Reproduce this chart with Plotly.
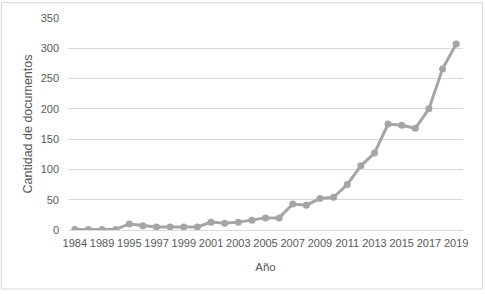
import plotly.graph_objects as go

years = ["1984", "1988", "1989", "1993", "1995", "1996", "1997", "1998", "1999", "2000",
         "2001", "2002", "2003", "2004", "2005", "2006", "2007", "2008", "2009", "2010",
         "2011", "2012", "2013", "2014", "2015", "2016", "2017", "2018", "2019"]
docs = [1, 1, 1, 1, 10, 7, 5, 5, 5, 5,
        13, 11, 13, 16, 20, 20, 43, 41, 52, 54,
        75, 106, 127, 175, 173, 168, 200, 266, 307]
tick_labels = years[::2]

W, H = 485, 294
L, R, T, B = 68, 22, 16, 64
pw, ph = W - L - R, H - T - B

fig = go.Figure()
fig.add_trace(go.Scatter(
    x=years, y=docs, mode="lines+markers",
    line=dict(color="#a5a5a5", width=3),
    marker=dict(color="#a5a5a5", size=7),
    hoverinfo="x+y",
))

font_col = "#595959"
fig.update_layout(
    width=W, height=H,
    margin=dict(l=L, r=R, t=T, b=B),
    paper_bgcolor="white", plot_bgcolor="white",
    showlegend=False,
    font=dict(family="Liberation Sans, Arial, sans-serif", size=11, color=font_col),
    xaxis=dict(
        type="category", range=[-0.5, len(years) - 0.5],
        tickmode="array", tickvals=tick_labels, ticktext=tick_labels,
        showgrid=False, showline=True, linecolor="#d9d9d9", linewidth=1,
        ticks="", tickfont=dict(size=11, color=font_col), ticklabelstandoff=3,
        title=dict(text="Año", font=dict(size=11.5, color=font_col), standoff=14),
        fixedrange=True,
    ),
    yaxis=dict(
        range=[0, 350], dtick=50, showgrid=True, gridcolor="#d9d9d9", gridwidth=1,
        zeroline=False, showline=False, ticks="",
        tickfont=dict(size=11, color=font_col), ticklabelstandoff=8,
        title=dict(text="Cantidad de documentos", font=dict(size=12.5, color=font_col), standoff=5),
        fixedrange=True,
    ),
    shapes=[dict(
        type="rect", xref="paper", yref="paper",
        x0=(1.5 - L) / pw, x1=(482.5 - L) / pw,
        y0=(T + ph - 289.5) / ph, y1=(T + ph - 0.5) / ph,
        line=dict(color="#d9d9d9", width=1), fillcolor="rgba(0,0,0,0)", layer="below",
    )],
)

fig.write_html("out.html", config={"displayModeBar": False},
               post_script="document.body.style.margin='0px';")
